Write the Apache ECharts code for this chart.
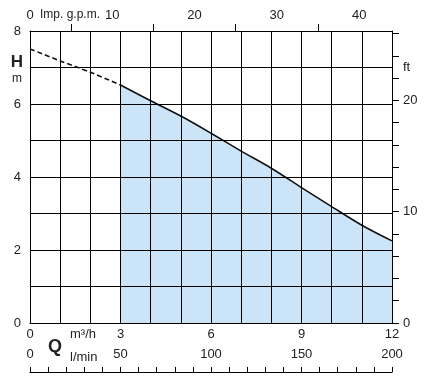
<!DOCTYPE html>
<html>
<head>
<meta charset="utf-8">
<script src="https://cdn.jsdelivr.net/npm/echarts@6/dist/echarts.min.js"></script>
<style>html,body{margin:0;padding:0;background:#fff}#c{width:426px;height:390px}</style>
</head>
<body>
<div id="c"></div>
<script>
// Data
const flowM3h = [0, 1, 2, 3, 4, 5, 6, 7, 8, 9, 10, 11, 12];
const headM = [7.51, 7.18, 6.87, 6.52, 6.09, 5.67, 5.20, 4.71, 4.24, 3.71, 3.19, 2.68, 2.25];
const dashedEndIndex = 3; // curve dashed up to 3 m3/h
const m3hLabels = [0, 3, 6, 9, 12];
const lminLabels = [0, 50, 100, 150, 200];
const gpmLabels = [0, 10, 20, 30, 40];
const gpmTicks = [5, 15, 25, 35];
const hLabels = [0, 2, 4, 6, 8];
const ftLabels = [0, 10, 20];
const ftTicks = [0, 2, 4, 6, 8, 10, 12, 14, 16, 18, 20, 22, 24, 26];

const Q_MAX = 12, H_MAX = 8;
const LMIN_MAX = Q_MAX * 1000 / 60;
const GPM_MAX = LMIN_MAX / 4.54609;
const FT_MAX = H_MAX / 0.3048;

const dashedData = flowM3h.slice(0, dashedEndIndex + 1).map((q, i) => [q, headM[i]]);
const solidData = flowM3h.slice(dashedEndIndex).map((q, i) => [q, headM[i + dashedEndIndex]]);

const FONT = 'Liberation Sans, Arial, sans-serif';
const TXT = '#222';
const lbl = (extra) => Object.assign({ color: TXT, fontFamily: FONT, fontSize: 13 }, extra || {});

const chart = echarts.init(document.getElementById('c'));
chart.setOption({
  animation: false,
  grid: { left: 30, right: 34, top: 31, bottom: 67, containLabel: false },
  xAxis: [
    {
      type: 'value', position: 'bottom', min: 0, max: Q_MAX, interval: 1, z: 5,
      axisLine: { show: true, onZero: false, lineStyle: { color: '#000', width: 1 } },
      axisTick: { show: false },
      splitLine: { show: true, lineStyle: { color: '#000', width: 1 } },
      axisLabel: lbl({ customValues: m3hLabels, margin: 5 })
    },
    {
      type: 'value', position: 'bottom', offset: 49, min: 0, max: LMIN_MAX, interval: 10,
      axisLine: { show: true, onZero: false, lineStyle: { color: '#000', width: 1 } },
      axisTick: { show: true, inside: true, length: 5, lineStyle: { color: '#000' } },
      splitLine: { show: false },
      axisLabel: lbl({ customValues: lminLabels, inside: true, margin: 11 })
    },
    {
      type: 'value', position: 'top', min: 0, max: GPM_MAX, z: 5,
      axisLine: { show: true, onZero: false, lineStyle: { color: '#000', width: 1 } },
      axisTick: { show: true, inside: false, customValues: gpmTicks, length: 7, lineStyle: { color: '#000', width: 1 } },
      splitLine: { show: false },
      axisLabel: lbl({ customValues: gpmLabels, margin: 9 })
    }
  ],
  yAxis: [
    {
      type: 'value', position: 'left', min: 0, max: H_MAX, interval: 1, z: 5,
      axisLine: { show: true, onZero: false, lineStyle: { color: '#000', width: 1 } },
      axisTick: { show: false },
      splitLine: { show: true, lineStyle: { color: '#000', width: 1 } },
      axisLabel: lbl({ customValues: hLabels, margin: 9 })
    },
    {
      type: 'value', position: 'right', min: 0, max: FT_MAX, z: 5,
      axisLine: { show: true, onZero: false, lineStyle: { color: '#000', width: 1 } },
      axisTick: { show: true, customValues: ftTicks, length: 7, lineStyle: { color: '#000' } },
      splitLine: { show: false },
      axisLabel: lbl({ customValues: ftLabels, margin: 11 })
    }
  ],
  series: [
    {
      type: 'line', xAxisIndex: 0, yAxisIndex: 0, data: solidData, smooth: 0.3,
      symbol: 'none', z: 2,
      lineStyle: { color: '#111', width: 1.6 },
      areaStyle: { color: '#cce4f7', opacity: 1 }
    },
    {
      type: 'line', xAxisIndex: 0, yAxisIndex: 0, data: dashedData, smooth: 0.3,
      symbol: 'none', z: 6,
      lineStyle: { color: '#111', width: 1.6, type: [5, 3] }
    }
  ],
  graphic: [
    { type: 'text', x: 40, y: 15, style: { text: 'Imp. g.p.m.', fill: TXT, font: '12px ' + FONT, align: 'left', verticalAlign: 'middle' } },
    { type: 'text', x: 17, y: 62, style: { text: 'H', fill: TXT, font: 'bold 17px ' + FONT, align: 'center', verticalAlign: 'middle' } },
    { type: 'text', x: 17, y: 79, style: { text: 'm', fill: TXT, font: '12px ' + FONT, align: 'center', verticalAlign: 'middle' } },
    { type: 'text', x: 403, y: 67, style: { text: 'ft', fill: TXT, font: '13px ' + FONT, align: 'left', verticalAlign: 'middle' } },
    { type: 'text', x: 70, y: 334, style: { text: 'm³/h', fill: TXT, font: '13px ' + FONT, align: 'left', verticalAlign: 'middle' } },
    { type: 'text', x: 55, y: 347, style: { text: 'Q', fill: TXT, font: 'bold 18px ' + FONT, align: 'center', verticalAlign: 'middle' } },
    { type: 'text', x: 70, y: 357, style: { text: 'l/min', fill: TXT, font: '13px ' + FONT, align: 'left', verticalAlign: 'middle' } }
  ]
});
</script>
</body>
</html>
